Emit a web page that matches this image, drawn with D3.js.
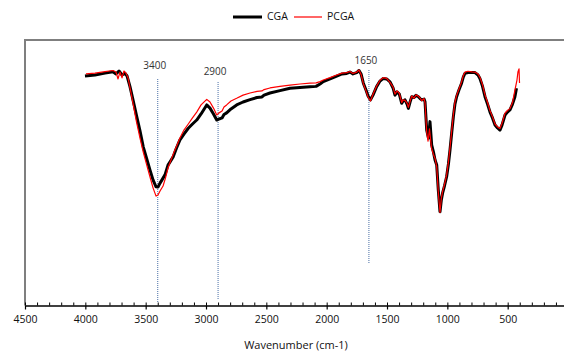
<!DOCTYPE html>
<html>
<head>
<meta charset="utf-8">
<script src="https://cdn.jsdelivr.net/npm/d3@7"></script>
<style>
  html, body { margin: 0; padding: 0; background: #fff; }
  svg { display: block; }
  text { font-family: "Open Sans", "Noto Sans", sans-serif; fill: #111; }
</style>
</head>
<body>
<svg id="chart" width="564" height="354"></svg>
<script>
// FTIR spectra: wavenumber (cm-1) and transmittance (arbitrary units)
const cgaWave = [4003,3920,3837,3771,3746,3721,3696,3671,3654,3630,3605,3574,3547,3520,3491,3464,3439,3414,3398,3381,3361,3340,3315,3294,3271,3245,3216,3183,3147,3112,3077,3041,2994,2967,2938,2911,2892,2867,2851,2829,2793,2746,2693,2635,2577,2536,2519,2470,2387,2304,2221,2138,2088,2055,2028,1972,1917,1873,1834,1807,1782,1751,1732,1715,1696,1674,1657,1637,1616,1586,1558,1531,1503,1475,1450,1434,1417,1398,1378,1367,1351,1334,1323,1309,1295,1276,1260,1240,1226,1212,1193,1185,1171,1156,1144,1130,1115,1102,1088,1075,1061,1050,1039,1024,1006,991,978,964,950,937,923,904,882,868,854,829,796,771,746,730,709,688,667,647,626,605,584,564,547,522,502,481,460,440,427];
const cgaT    = [86.4,86.8,87.5,88.0,87.2,88.3,86.8,87.4,86.4,82.4,77.4,71.1,65.7,59.7,55.1,50.9,47.2,44.6,44.5,46.0,47.5,49.1,52.8,54.3,56.0,59.2,62.3,64.5,66.7,68.3,69.8,72.1,75.5,74.3,72.1,69.8,70.2,70.6,71.9,72.5,74.0,75.5,76.6,77.5,78.3,78.5,79.2,80.0,80.9,81.8,82.1,82.4,82.5,83.4,84.3,85.3,86.4,87.2,87.4,87.9,87.2,87.7,88.5,87.2,83.7,81.1,78.9,77.4,79.2,82.4,84.5,85.5,85.3,84.2,81.9,79.2,80.4,79.6,76.1,77.0,77.4,75.8,74.2,76.6,78.6,78.3,79.1,78.6,77.9,77.4,77.7,76.7,66.0,63.0,69.2,60.4,57.7,54.7,52.8,43.4,35.2,39.6,42.3,44.9,48.4,53.2,58.5,64.9,71.1,75.8,78.6,81.1,83.7,86.0,87.4,87.7,87.7,87.7,86.8,85.5,82.6,78.6,75.8,72.9,70.6,67.9,66.8,66.0,67.9,71.7,72.8,73.6,75.8,78.6,81.8];

const pcgaWave = [3995,3920,3837,3771,3746,3729,3713,3696,3680,3663,3646,3626,3601,3576,3547,3520,3491,3464,3439,3414,3398,3381,3356,3336,3315,3290,3265,3240,3216,3183,3147,3112,3077,3041,2994,2967,2938,2911,2892,2867,2851,2829,2793,2746,2693,2635,2577,2536,2519,2470,2387,2304,2221,2138,2088,2055,2028,1972,1917,1873,1834,1807,1782,1751,1732,1715,1696,1674,1657,1637,1616,1586,1558,1531,1503,1475,1450,1434,1417,1398,1378,1367,1351,1334,1323,1309,1295,1276,1260,1240,1226,1212,1193,1185,1171,1160,1148,1132,1115,1102,1088,1075,1061,1050,1039,1024,1006,991,978,964,950,937,923,904,882,868,854,829,796,771,746,730,709,688,667,647,626,605,584,564,547,522,502,481,460,440,423,415,406,402];
const pcgaT    = [87.2,87.5,88.1,88.5,87.9,85.3,87.9,85.7,88.3,87.5,85.7,81.1,75.1,69.1,63.0,57.7,52.8,48.3,44.2,41.1,41.5,43.0,44.9,47.9,51.7,54.7,57.7,60.4,63.0,66.0,68.3,70.6,72.8,75.5,77.6,76.6,74.3,71.7,72.5,73.2,74.7,75.5,77.0,78.0,79.2,80.0,80.6,80.8,81.3,81.9,82.5,83.0,83.4,83.7,83.8,84.3,84.9,85.8,86.8,87.5,87.7,88.1,87.4,87.9,88.7,87.0,83.5,80.8,78.5,77.0,79.5,82.6,84.8,85.8,85.5,84.0,82.2,79.6,80.8,79.9,76.4,77.4,77.2,76.2,74.6,76.9,78.9,78.0,79.3,78.8,78.1,77.1,77.9,76.3,65.1,61.8,66.5,59.4,56.8,55.3,52.1,42.6,34.9,40.2,42.9,45.4,49.1,54.0,59.4,65.7,71.9,76.6,79.1,81.5,84.2,86.5,87.9,88.2,88.0,87.9,87.2,85.9,83.2,79.3,76.4,73.4,71.0,68.3,67.2,66.6,68.6,72.4,73.4,74.1,76.4,81.1,84.9,87.9,89.1,83.8];

const xTickValues = [4500,4000,3500,3000,2500,2000,1500,1000,500];
const peakWaves  = [3400, 2900, 1650];
const peakLabels = ["3400", "2900", "1650"];
const seriesNames = ["CGA", "PCGA"];
const seriesColors = ["#000000", "#ff0000"];
const axisTitle = "Wavenumber (cm-1)";

const svg = d3.select("#chart");

// plot geometry
const plotLeft = 25, plotTop = 40, plotBottom = 305.5;
const x = d3.scaleLinear().domain([4500, 0]).range([plotLeft, plotLeft + 4500 * 0.12067]);
const y = d3.scaleLinear().domain([0, 100]).range([305, 40]);

// plot-area frame (open at the right, clipped by the window)
svg.append("path")
  .attr("d", `M${plotLeft},${plotBottom} L${plotLeft},${plotTop} L600,${plotTop}`)
  .attr("fill", "none")
  .attr("stroke", "#7f7f7f")
  .attr("stroke-width", 2);

// peak marker lines and labels
const markerLayout = [
  { y1: 79, y2: 303, ly: 66 },
  { y1: 82, y2: 299, ly: 72 },
  { y1: 70, y2: 263, ly: 61 }
];
const markers = svg.append("g");
peakWaves.forEach((w, i) => {
  const m = markerLayout[i];
  markers.append("line")
    .attr("x1", x(w)).attr("x2", x(w))
    .attr("y1", m.y1).attr("y2", m.y2)
    .attr("stroke", "#4a6fa5")
    .attr("stroke-width", 1)
    .attr("stroke-dasharray", "1,1");
  markers.append("text")
    .attr("x", x(w) - 3).attr("y", m.ly)
    .attr("text-anchor", "middle")
    .attr("dominant-baseline", "middle")
    .attr("font-size", "10px")
    .style("fill", "#333")
    .text(peakLabels[i]);
});

// spectra
const line = d3.line()
  .x(d => x(d[0]))
  .y(d => y(d[1]))
  .curve(d3.curveLinear);

const cgaData = cgaWave.map((w, i) => [w, cgaT[i]]);
const pcgaData = pcgaWave.map((w, i) => [w, pcgaT[i]]);

svg.append("path")
  .datum(cgaData)
  .attr("d", line)
  .attr("fill", "none")
  .attr("stroke", seriesColors[0])
  .attr("stroke-width", 3)
  .attr("stroke-linejoin", "round");

svg.append("path")
  .datum(pcgaData)
  .attr("d", line)
  .attr("fill", "none")
  .attr("stroke", seriesColors[1])
  .attr("stroke-width", 1.2)
  .attr("stroke-linejoin", "round");

// x axis: labelled major ticks crossing the line, minor ticks above it
const axisG = svg.append("g").attr("transform", `translate(0,${plotBottom})`);
axisG.call(d3.axisBottom(x).tickValues(xTickValues).tickFormat(d3.format("d"))
    .tickSize(4).tickSizeOuter(0).tickPadding(6))
  .call(g => g.select(".domain").attr("stroke", "#000").attr("stroke-width", 1.5))
  .call(g => g.selectAll(".tick line").attr("stroke", "#000").attr("stroke-width", 1.2))
  .call(g => g.selectAll(".tick text")
    .attr("font-size", "10.5px")
    .attr("font-family", "'Open Sans', sans-serif")
    .style("fill", "#111"));

const minorTicks = d3.range(4500, -1, -100);
svg.append("g").attr("transform", `translate(0,${plotBottom})`)
  .call(d3.axisTop(x).tickValues(minorTicks).tickSize(3).tickFormat(""))
  .call(g => g.select(".domain").remove())
  .call(g => g.selectAll(".tick line").attr("stroke", "#000").attr("stroke-width", 1));

// axis title
svg.append("text")
  .attr("x", 296).attr("y", 346)
  .attr("text-anchor", "middle")
  .attr("dominant-baseline", "middle")
  .attr("font-size", "11px")
  .text(axisTitle);

// legend
const legend = svg.append("g");
const legendItems = [
  { x1: 233, x2: 262, tx: 267, w: 3 },
  { x1: 294, x2: 322, tx: 327, w: 1.2 }
];
seriesNames.forEach((name, i) => {
  const it = legendItems[i];
  legend.append("line")
    .attr("x1", it.x1).attr("x2", it.x2)
    .attr("y1", 17).attr("y2", 17)
    .attr("stroke", seriesColors[i])
    .attr("stroke-width", it.w);
  legend.append("text")
    .attr("x", it.tx).attr("y", 17)
    .attr("dominant-baseline", "middle")
    .attr("font-size", "10.5px")
    .text(name);
});
</script>
</body>
</html>
